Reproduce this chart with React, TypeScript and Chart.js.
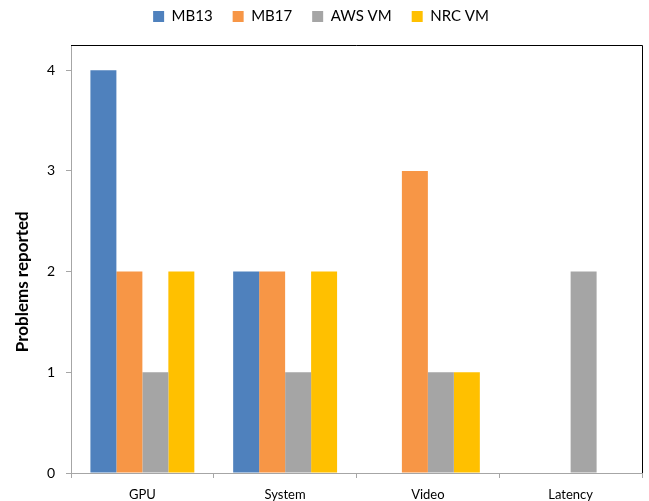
import React, { useEffect, useRef } from "react";
import { Chart, registerables } from "chart.js";

Chart.register(...registerables);

const categories = ["GPU", "System", "Video", "Latency"];
const seriesNames = ["MB13", "MB17", "AWS VM", "NRC VM"];
const mb13 = [4, 2, 0, 0];
const mb17 = [2, 2, 3, 0];
const awsVm = [1, 1, 1, 2];
const nrcVm = [2, 2, 1, 0];
const yTicks = [0, 1, 2, 3, 4];
const yTitle = "Problems reported";
const colors = ["#4f81bd", "#f79646", "#a5a5a5", "#ffc000"];

const LEGEND_TOP = -11;
const PLOT_TOP = 45;

const framePlugin = {
  id: "frame",
  beforeLayout(chart: any) {
    const lg = chart.legend;
    if (lg && !lg.__patched) {
      const orig = lg.fit.bind(lg);
      lg.fit = function () {
        orig();
        this.height = PLOT_TOP - LEGEND_TOP;
      };
      lg.__patched = true;
    }
  },
  afterDraw(chart: any) {
    const { ctx, chartArea } = chart;
    ctx.save();
    ctx.strokeStyle = "#000";
    ctx.lineWidth = 1;
    ctx.beginPath();
    ctx.moveTo(chartArea.left, chartArea.top + 0.5);
    ctx.lineTo(chartArea.right + 0.5, chartArea.top + 0.5);
    ctx.lineTo(chartArea.right + 0.5, chartArea.bottom);
    ctx.stroke();
    ctx.restore();
  },
};

export default function App() {
  const ref = useRef<HTMLCanvasElement | null>(null);
  useEffect(() => {
    if (!ref.current) return;
    Chart.defaults.font.family = "Lato";
    const data = [mb13, mb17, awsVm, nrcVm];
    const chart = new Chart(ref.current, {
      type: "bar",
      data: {
        labels: categories,
        datasets: seriesNames.map((n, i) => ({
          label: n,
          data: data[i],
          backgroundColor: colors[i],
          borderWidth: 0,
          categoryPercentage: 0.728,
          barPercentage: 1,
        })),
      },
      options: {
        animation: false,
        responsive: false,
        layout: { padding: { top: LEGEND_TOP, right: 7, left: 0, bottom: 0 } },
        plugins: {
          tooltip: { enabled: false },
          legend: {
            position: "top",
            labels: {
              boxWidth: 11,
              boxHeight: 11,
              padding: 20,
              color: "#000",
              font: { size: 15, family: "Lato" },
            },
          },
        },
        scales: {
          x: {
            afterFit: (s: any) => {
              s.height = 28;
            },
            grid: {
              offset: true,
              drawOnChartArea: false,
              drawTicks: true,
              tickLength: 5,
              color: "#a6a6a6",
            },
            border: { color: "#a6a6a6", width: 1 },
            ticks: { color: "#000", padding: 9, font: { size: 13, family: "Lato" } },
          },
          y: {
            min: 0,
            max: 4.25,
            afterFit: (s: any) => {
              s.width = 71;
            },
            afterBuildTicks: (s: any) => {
              s.ticks = yTicks.map((v) => ({ value: v }));
            },
            grid: {
              drawOnChartArea: false,
              drawTicks: true,
              tickLength: 5,
              color: "#a6a6a6",
            },
            border: { color: "#a6a6a6", width: 1 },
            ticks: { color: "#000", padding: 11, font: { size: 14, family: "Lato" } },
            title: {
              display: true,
              text: yTitle + "           ",
              color: "#000",
              padding: { top: 12, bottom: 0 },
              font: { size: 17, weight: "bold", family: "Lato" },
            },
          },
        },
      },
      plugins: [framePlugin],
    } as any);
    return () => chart.destroy();
  }, []);
  return (
    <div style={{ position: "fixed", left: 0, top: 0, width: 649, height: 501, background: "#fff" }}>
      <canvas ref={ref} width={649} height={501} style={{ width: 649, height: 501 }} />
    </div>
  );
}
